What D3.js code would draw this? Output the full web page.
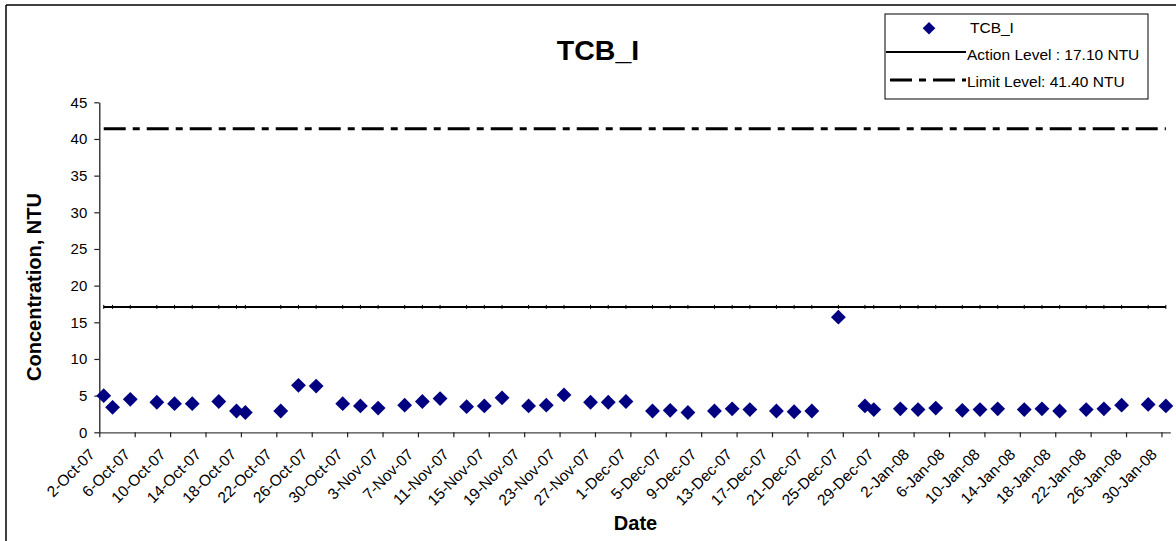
<!DOCTYPE html>
<html><head><meta charset="utf-8">
<script src="https://cdn.jsdelivr.net/npm/d3@7"></script>
<style>
html,body{margin:0;padding:0;background:#fff;}
svg{display:block;font-family:Arial,"Liberation Sans",sans-serif;}
</style></head>
<body>
<svg id="chart" width="1176" height="541"></svg>
<script>
// ---- data ----
const dates = ["2007-10-02","2007-10-03","2007-10-05","2007-10-08","2007-10-10","2007-10-12","2007-10-15","2007-10-17","2007-10-18","2007-10-22",
"2007-10-24","2007-10-26","2007-10-29","2007-10-31","2007-11-02","2007-11-05","2007-11-07","2007-11-09","2007-11-12","2007-11-14",
"2007-11-16","2007-11-19","2007-11-21","2007-11-23","2007-11-26","2007-11-28","2007-11-30","2007-12-03","2007-12-05","2007-12-07",
"2007-12-10","2007-12-12","2007-12-14","2007-12-17","2007-12-19","2007-12-21","2007-12-24","2007-12-27","2007-12-28","2007-12-31",
"2008-01-02","2008-01-04","2008-01-07","2008-01-09","2008-01-11","2008-01-14","2008-01-16","2008-01-18","2008-01-21","2008-01-23",
"2008-01-25","2008-01-28","2008-01-30"];
const values = [5.0,3.4,4.5,4.1,3.9,3.9,4.2,2.9,2.7,2.9,
6.4,6.3,3.9,3.6,3.3,3.7,4.2,4.6,3.5,3.6,
4.7,3.6,3.7,5.1,4.1,4.1,4.2,2.9,3.0,2.7,
2.9,3.2,3.1,2.9,2.8,2.9,15.7,3.6,3.1,3.2,
3.1,3.3,3.0,3.1,3.2,3.1,3.2,2.9,3.1,3.2,
3.7,3.8,3.6];
const actionLevel = 17.1;
const limitLevel = 41.4;
const yTicks = [0,5,10,15,20,25,30,35,40,45];
const seriesName = "TCB_I";
const actionLabel = "Action Level : 17.10 NTU";
const limitLabel = "Limit Level: 41.40 NTU";
const titleText = "TCB_I";
const xTitle = "Date";
const yTitle = "Concentration, NTU";

// ---- setup ----
const svg = d3.select("#chart");
const parse = d3.utcParse("%Y-%m-%d");
const pts = dates.map((d,i)=>({date:new Date(parse(d).getTime()+12*3600*1000), v:values[i]}));

const x = d3.scaleUtc()
  .domain([Date.UTC(2007,9,2), Date.UTC(2008,0,31)])
  .range([99.3, 1170.3]);
const y = d3.scaleLinear().domain([0,45]).range([432.3,102.3]);

// frame lines
svg.append("line").attr("x1",6).attr("x2",1176).attr("y1",5).attr("y2",5).attr("stroke","#000").attr("stroke-width",1.5);
svg.append("line").attr("x1",6).attr("x2",6).attr("y1",5).attr("y2",541).attr("stroke","#000").attr("stroke-width",1.5);

// title
svg.append("text").attr("x",598).attr("y",60).attr("text-anchor","middle")
  .attr("font-size",28.5).attr("font-weight","bold").text(titleText);

// axes
const xTickVals = d3.utcDay.every(1).range(new Date(Date.UTC(2007,9,2)), new Date(Date.UTC(2008,0,31))).filter((d,i)=>i%4===0);
const fmt = d3.utcFormat("%-d-%b-%y");
const gx = svg.append("g").attr("transform","translate(0,432.3)")
  .call(d3.axisBottom(x).tickValues(xTickVals).tickFormat(fmt).tickSize(5).tickSizeOuter(0));
gx.select(".domain").attr("stroke","#444").attr("stroke-width",1.3);
gx.selectAll(".tick line").attr("stroke","#222").attr("stroke-width",1.2);
gx.selectAll(".tick text")
  .attr("font-size",15.5).attr("font-family","Arial,'Liberation Sans',sans-serif").attr("fill","#000")
  .attr("text-anchor","end").attr("x",0).attr("y",0).attr("dx",0).attr("dy",0)
  .attr("transform","translate(-4,23) rotate(-45)");

const gy = svg.append("g").attr("transform","translate(99.3,0)")
  .call(d3.axisLeft(y).tickValues(yTicks).tickSize(5).tickSizeOuter(0));
gy.select(".domain").attr("stroke","#222").attr("stroke-width",1.3);
gy.selectAll(".tick line").attr("stroke","#222").attr("stroke-width",1.2);
gy.selectAll(".tick text").attr("font-size",15).attr("font-family","Arial,'Liberation Sans',sans-serif").attr("fill","#000").attr("x",-12);

// axis titles
svg.append("text").attr("x",635.5).attr("y",530).attr("text-anchor","middle")
  .attr("font-size",20).attr("font-weight","bold").text(xTitle);
svg.append("text").attr("transform","translate(40.5,287) rotate(-90)").attr("text-anchor","middle")
  .attr("font-size",20).attr("font-weight","bold").text(yTitle);

// level lines
const line = d3.line().x(d=>x(d.date)).y(d=>y(d.v));
const actionPts = pts.map(p=>({date:p.date, v:actionLevel}));
const limitPts = pts.map(p=>({date:p.date, v:limitLevel}));
svg.append("path").datum(limitPts).attr("d",line).attr("fill","none")
  .attr("stroke","#000").attr("stroke-width",3).attr("stroke-dasharray","22,7,7,7");
svg.append("path").datum(actionPts).attr("d",line).attr("fill","none")
  .attr("stroke","#000").attr("stroke-width",2);
svg.append("g").selectAll("line").data(actionPts).join("line")
  .attr("x1",d=>x(d.date)).attr("x2",d=>x(d.date))
  .attr("y1",d=>y(d.v)-2).attr("y2",d=>y(d.v)+2)
  .attr("stroke","#000").attr("stroke-width",1);

// points
const diamond = d3.symbol().type(d3.symbolSquare).size(110);
svg.append("g").selectAll("path").data(pts).join("path")
  .attr("d",diamond)
  .attr("transform",d=>`translate(${x(d.date)},${y(d.v)}) rotate(45)`)
  .attr("fill","#000080");

// legend
const lg = svg.append("g");
lg.append("rect").attr("x",885).attr("y",14).attr("width",263).attr("height",85)
  .attr("fill","#fff").attr("stroke","#000").attr("stroke-width",1);
lg.append("path").attr("d",diamond).attr("fill","#000080")
  .attr("transform","translate(929,28.3) rotate(45) scale(0.85)");
lg.append("text").attr("x",970).attr("y",33).attr("font-size",15.5).text(seriesName);
lg.append("line").attr("x1",886).attr("x2",966).attr("y1",52).attr("y2",52).attr("stroke","#000").attr("stroke-width",2);
lg.append("text").attr("x",967).attr("y",60).attr("font-size",15.5).text(actionLabel);
lg.append("line").attr("x1",890).attr("x2",966).attr("y1",80).attr("y2",80).attr("stroke","#000").attr("stroke-width",3)
  .attr("stroke-dasharray","22,7,7,7");
lg.append("text").attr("x",967).attr("y",86.5).attr("font-size",15.5).text(limitLabel);
</script>
</body></html>
